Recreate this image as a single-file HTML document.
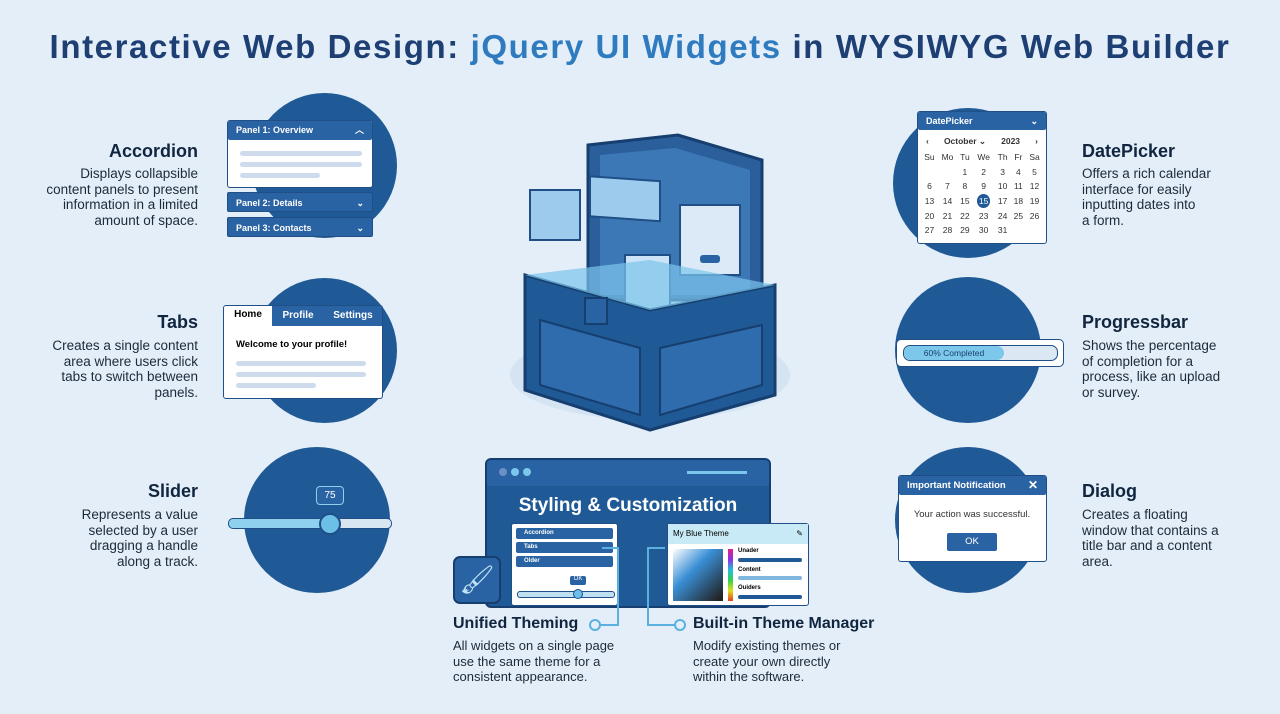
<!DOCTYPE html><html><head><style>
body{margin:0;width:1280px;height:714px;background:#e4eef8;font-family:"Liberation Sans",sans-serif;position:relative;overflow:hidden}
.a{position:absolute}
.c{position:absolute;border-radius:50%;background:#1f5a96}
h1{position:absolute;left:0;width:1280px;top:28px;margin:0;text-align:center;font-size:33px;color:#1d3f73;font-weight:bold;letter-spacing:1.6px;white-space:nowrap}
h1 span{color:#2f7bc0}
.tt{position:absolute;font-weight:bold;font-size:18px;color:#10253f;white-space:nowrap}
.tx{position:absolute;font-size:13.5px;line-height:15.5px;color:#1d2a3a;white-space:nowrap}
.r{text-align:right}
.w{position:absolute;background:#fff;border:1.5px solid #1f4f86;border-radius:3px;box-sizing:border-box}
.hd{background:#2a63a3;color:#fff;font-size:9px;font-weight:bold;padding:0 8px;box-sizing:border-box;border-radius:2px}
.ln{position:absolute;height:5px;background:#cddbec;border-radius:3px}
td{padding:0;height:14.6px}
</style></head><body>
<h1>Interactive Web Design: <span>jQuery UI Widgets</span> in WYSIWYG Web Builder</h1>

<div class="c" style="left:252px;top:93px;width:145px;height:145px"></div>
<div class="c" style="left:252px;top:278px;width:145px;height:145px"></div>
<div class="c" style="left:244px;top:447px;width:146px;height:146px"></div>
<div class="c" style="left:893px;top:108px;width:150px;height:150px"></div>
<div class="c" style="left:895px;top:277px;width:146px;height:146px"></div>
<div class="c" style="left:895px;top:447px;width:146px;height:146px"></div>

<div class="tt r" style="right:1082px;top:141px">Accordion</div>
<div class="tx r" style="right:1082px;top:166px">Displays collapsible<br>content panels to present<br>information in a limited<br>amount of space.</div>
<div class="tt r" style="right:1082px;top:312px">Tabs</div>
<div class="tx r" style="right:1082px;top:338px">Creates a single content<br>area where users click<br>tabs to switch between<br>panels.</div>
<div class="tt r" style="right:1082px;top:481px">Slider</div>
<div class="tx r" style="right:1082px;top:507px">Represents a value<br>selected by a user<br>dragging a handle<br>along a track.</div>

<div class="tt" style="left:1082px;top:141px">DatePicker</div>
<div class="tx" style="left:1082px;top:166px">Offers a rich calendar<br>interface for easily<br>inputting dates into<br>a form.</div>
<div class="tt" style="left:1082px;top:312px">Progressbar</div>
<div class="tx" style="left:1082px;top:338px">Shows the percentage<br>of completion for a<br>process, like an upload<br>or survey.</div>
<div class="tt" style="left:1082px;top:481px">Dialog</div>
<div class="tx" style="left:1082px;top:507px">Creates a floating<br>window that contains a<br>title bar and a content<br>area.</div>

<!-- accordion -->
<div class="w" style="left:227px;top:120px;width:146px;height:68px">
<div class="hd" style="height:19px;line-height:19px">Panel 1: Overview<span style="float:right">︿</span></div>
<div class="ln" style="left:12px;top:30px;width:122px"></div><div class="ln" style="left:12px;top:41px;width:122px"></div><div class="ln" style="left:12px;top:52px;width:80px"></div></div>
<div class="a hd" style="left:227px;top:192px;width:146px;height:20px;line-height:20px;border:1px solid #1f4f86">Panel 2: Details<span style="float:right">⌄</span></div>
<div class="a hd" style="left:227px;top:217px;width:146px;height:20px;line-height:20px;border:1px solid #1f4f86">Panel 3: Contacts<span style="float:right">⌄</span></div>

<!-- tabs -->
<div class="w" style="left:223px;top:305px;width:160px;height:94px">
<div class="a" style="left:48px;top:0;width:110px;height:20px;background:#2a63a3"></div>
<div class="a" style="left:0;top:3px;width:48px;font-size:10px;font-weight:bold;text-align:center">Home</div>
<div class="a" style="left:52px;top:4px;width:44px;font-size:10px;font-weight:bold;color:#fff;text-align:center">Profile</div>
<div class="a" style="left:100px;top:4px;width:58px;font-size:10px;font-weight:bold;color:#fff;text-align:center">Settings</div>
<div class="a" style="left:12px;top:33px;font-size:9.5px;font-weight:bold">Welcome to your profile!</div>
<div class="ln" style="left:12px;top:55px;width:130px"></div><div class="ln" style="left:12px;top:66px;width:130px"></div><div class="ln" style="left:12px;top:77px;width:80px"></div></div>

<!-- slider -->
<div class="a" style="left:228px;top:518px;width:162px;height:9px;border-radius:5px;background:linear-gradient(90deg,#8fd0ee 62%,#d8e6f2 62%);border:1px solid #1f4f86"></div>
<div class="a" style="left:319px;top:513px;width:18px;height:18px;border-radius:50%;background:#6cc0e8;border:2px solid #1f4f86"></div>
<div class="a" style="left:316px;top:486px;width:26px;height:17px;border-radius:4px;background:#2a63a3;color:#fff;font-size:10px;text-align:center;line-height:17px;border:1px solid #8fd0ee">75</div>

<!-- datepicker -->
<div class="w" style="left:917px;top:111px;width:130px;height:133px;font-size:8.5px;color:#333">
<div class="hd" style="height:18px;line-height:18px">DatePicker<span style="float:right">⌄</span></div>
<div style="display:flex;justify-content:space-between;padding:6px 8px 0;font-weight:bold"><span>‹</span><span>October ⌄</span><span>2023</span><span>›</span></div>
<table style="border-collapse:collapse;margin:3px 3px;font-size:8.5px;text-align:center;width:122px">
<tr><td>Su</td><td>Mo</td><td>Tu</td><td>We</td><td>Th</td><td>Fr</td><td>Sa</td></tr>
<tr><td></td><td></td><td>1</td><td>2</td><td>3</td><td>4</td><td>5</td></tr>
<tr><td>6</td><td>7</td><td>8</td><td>9</td><td>10</td><td>11</td><td>12</td></tr>
<tr><td>13</td><td>14</td><td>15</td><td><span style="background:#1f5a96;color:#fff;border-radius:50%;padding:2px 2px">15</span></td><td>17</td><td>18</td><td>19</td></tr>
<tr><td>20</td><td>21</td><td>22</td><td>23</td><td>24</td><td>25</td><td>26</td></tr>
<tr><td>27</td><td>28</td><td>29</td><td>30</td><td>31</td><td></td><td></td></tr></table></div>

<!-- progress -->
<div class="w" style="left:896px;top:339px;width:168px;height:28px;border-radius:5px">
<div class="a" style="left:6px;top:5px;width:153px;height:14px;border:1px solid #1f4f86;border-radius:7px;background:#dbe8f4"></div>
<div class="a" style="left:7px;top:6px;width:100px;height:14px;border-radius:7px;background:#7cc8ea;font-size:8.5px;text-align:center;line-height:14px;color:#1d3f73">60% Completed</div></div>

<!-- dialog -->
<div class="w" style="left:898px;top:475px;width:149px;height:87px">
<div class="hd" style="height:19px;line-height:19px;font-size:9.5px">Important Notification<span style="float:right;font-size:12px">✕</span></div>
<div class="a" style="left:0;width:146px;top:33px;font-size:9.5px;text-align:center;color:#333">Your action was successful.</div>
<div class="a" style="left:48px;top:57px;width:50px;height:18px;background:#2a63a3;color:#fff;font-size:9.5px;text-align:center;line-height:18px;border-radius:2px">OK</div></div>

<!-- center chest -->
<svg class="a" style="left:500px;top:120px" width="300" height="320" viewBox="0 0 300 320">
<ellipse cx="150" cy="255" rx="140" ry="45" fill="#d5e4f2"/>
<path d="M88 25 L178 15 L262 40 L262 180 L88 180Z" fill="#2a5f9c" stroke="#163e6e" stroke-width="3"/>
<path d="M100 35 L175 28 L250 50 L250 175 L100 175Z" fill="#3c78b6"/>
<rect x="90" y="50" width="70" height="40" fill="#9ccbee" stroke="#1f4f86" stroke-width="2" transform="skewY(4)"/>
<rect x="180" y="85" width="60" height="70" fill="#dbeaf6" stroke="#1f4f86" stroke-width="2"/>
<rect x="200" y="135" width="20" height="8" rx="3" fill="#2a63a3"/>
<rect x="30" y="70" width="50" height="50" fill="#9ccbee" stroke="#1f4f86" stroke-width="2"/>
<rect x="125" y="135" width="45" height="55" fill="#cde4f6" stroke="#1f4f86" stroke-width="2"/>
<path d="M25 155 L150 190 L275 165 L275 275 L150 310 L25 270Z" fill="#1f5a96" stroke="#163e6e" stroke-width="3"/>
<path d="M25 155 L150 190 L275 165 L150 140Z" fill="#7cc4ec" opacity="0.7"/>
<path d="M40 200 L140 228 L140 295 L40 265Z" fill="#2e6cad" stroke="#163e6e" stroke-width="2"/>
<path d="M160 228 L262 205 L262 265 L160 295Z" fill="#2e6cad" stroke="#163e6e" stroke-width="2"/>
<rect x="85" y="178" width="22" height="26" fill="#2a63a3" stroke="#163e6e" stroke-width="2"/>
</svg>

<!-- bottom panel -->
<div class="a" style="left:485px;top:458px;width:286px;height:150px;background:#1f5a96;border:2px solid #163e6e;border-radius:6px;box-sizing:border-box">
<div class="a" style="left:0;top:0;width:282px;height:26px;background:#2a63a3;border-radius:4px 4px 0 0"></div>
<div class="a" style="left:12px;top:8px;width:8px;height:8px;border-radius:50%;background:#6b8fc6"></div>
<div class="a" style="left:24px;top:8px;width:8px;height:8px;border-radius:50%;background:#7cc8ea"></div>
<div class="a" style="left:36px;top:8px;width:8px;height:8px;border-radius:50%;background:#7cc8ea"></div>
<div class="a" style="left:200px;top:11px;width:60px;height:3px;background:#7cc8ea"></div>
<div class="a" style="left:0;width:282px;top:35px;text-align:center;color:#fff;font-weight:bold;font-size:19px">Styling &amp; Customization</div></div>
<div class="w" style="left:511px;top:523px;width:107px;height:83px;padding:4px">
<div class="hd" style="height:11px;line-height:11px;font-size:6px;margin-bottom:3px">Accordion</div>
<div class="hd" style="height:11px;line-height:11px;font-size:6px;margin-bottom:3px">Tabs</div>
<div class="hd" style="height:11px;line-height:11px;font-size:6px">Older</div>
<div class="a" style="left:58px;top:52px;width:16px;height:9px;background:#2a63a3;color:#fff;font-size:6px;text-align:center;border-radius:2px">OK</div>
<div class="a" style="left:5px;top:67px;width:96px;height:5px;background:#bfe0f2;border:1px solid #1f4f86;border-radius:3px"></div>
<div class="a" style="left:61px;top:65px;width:8px;height:8px;border-radius:50%;background:#6cc0e8;border:1px solid #1f4f86"></div></div>
<div class="w" style="left:667px;top:523px;width:142px;height:83px">
<div style="background:#c8eaf6;height:20px;font-size:8px;line-height:20px;padding-left:5px">My Blue Theme<span style="float:right;padding-right:5px">✎</span></div>
<div class="a" style="left:5px;top:25px;width:50px;height:52px;background:linear-gradient(135deg,#fff,#3a8fd6 40%,#222 95%)"></div>
<div class="a" style="left:60px;top:25px;width:5px;height:52px;background:linear-gradient(#e0208c,#9030e0,#20c0e0,#30d050,#e0e020,#e04020)"></div>
<div class="a" style="left:70px;top:24px;font-size:6px;font-weight:bold">Unader</div>
<div class="a" style="left:70px;top:34px;width:64px;height:4px;background:#1f5a96;border-radius:2px"></div>
<div class="a" style="left:70px;top:43px;font-size:6px;font-weight:bold">Content</div>
<div class="a" style="left:70px;top:52px;width:64px;height:4px;background:#7fb6e0;border-radius:2px"></div>
<div class="a" style="left:70px;top:61px;font-size:6px;font-weight:bold">Ouiders</div>
<div class="a" style="left:70px;top:71px;width:64px;height:4px;background:#1f5a96;border-radius:2px"></div></div>
<div class="a" style="left:453px;top:556px;width:48px;height:48px;background:#2a63a3;border:2px solid #163e6e;border-radius:7px;box-sizing:border-box;color:#bfe4f6;font-size:28px;text-align:center;line-height:44px">🖌</div>
<svg class="a" style="left:580px;top:540px" width="120" height="100"><path d="M15 85 L38 85 L38 8 L22 8" fill="none" stroke="#5ab0e0" stroke-width="2"/><path d="M100 85 L68 85 L68 8 L85 8" fill="none" stroke="#5ab0e0" stroke-width="2"/><circle cx="15" cy="85" r="5" fill="#e4eef8" stroke="#5ab0e0" stroke-width="2"/><circle cx="100" cy="85" r="5" fill="#e4eef8" stroke="#5ab0e0" stroke-width="2"/></svg>
<div class="tt" style="left:453px;top:615px;font-size:16px">Unified Theming</div>
<div class="tx" style="left:453px;top:638px;font-size:13px">All widgets on a single page<br>use the same theme for a<br>consistent appearance.</div>
<div class="tt" style="left:693px;top:615px;font-size:16px">Built-in Theme Manager</div>
<div class="tx" style="left:693px;top:638px;font-size:13px">Modify existing themes or<br>create your own directly<br>within the software.</div>
</body></html>
